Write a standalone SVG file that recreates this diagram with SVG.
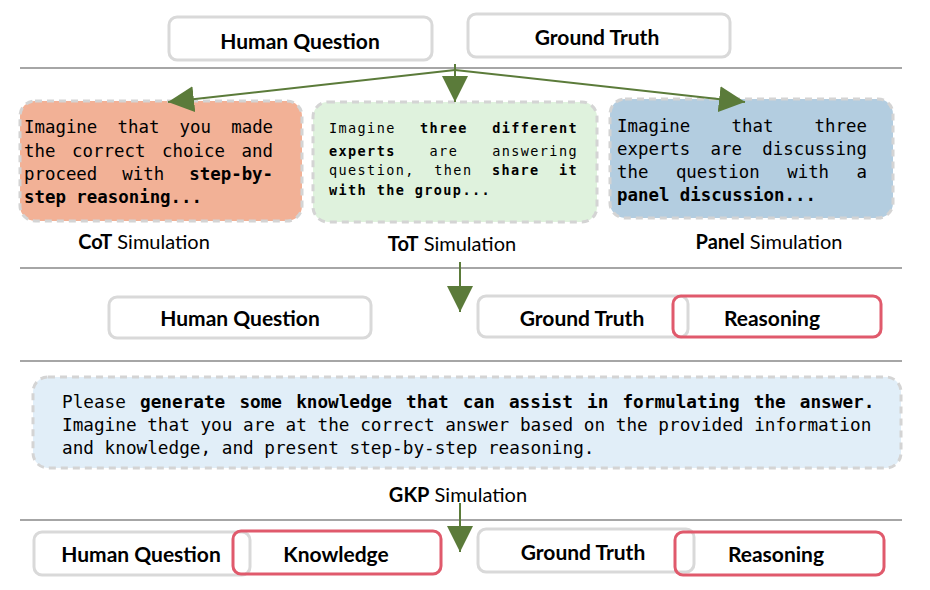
<svg xmlns="http://www.w3.org/2000/svg" width="930" height="590" viewBox="0 0 930 590">
<style>
.rule{stroke:#a6a6a6;stroke-width:2}
.box{fill:#fff;stroke:#d9d9d9;stroke-width:3}
.red{fill:none;stroke:#e05a6c;stroke-width:3}
.lbl{font-family:Lato,"Liberation Sans",sans-serif;font-weight:bold;font-size:21px;fill:#000;text-anchor:middle}
.cap{font-family:Lato,"Liberation Sans",sans-serif;font-size:20px;fill:#000;text-anchor:middle}
.cap tspan.b{font-weight:bold}
.prompt{stroke:#d4d4d4;stroke-width:3;stroke-dasharray:7 5}
.mono{font-family:"DejaVu Sans Mono","Liberation Mono",monospace;font-size:17.4px;fill:#000}
.gkp{font-family:"DejaVu Sans Mono","Liberation Mono",monospace;font-size:17.7px;fill:#000}
.small{font-family:"DejaVu Sans Mono","Liberation Mono",monospace;font-size:13.5px;letter-spacing:1.4px;fill:#000}
.b{font-weight:bold}
.conn{stroke:#5b7b3a;stroke-width:2;fill:none}
</style>
<defs>
<marker id="ah" markerUnits="userSpaceOnUse" markerWidth="28" markerHeight="26" refX="26" refY="13" orient="auto">
<path d="M0,0 L26,13 L0,26 Z" fill="#5b7b3a"/>
</marker>
</defs>

<g id="rules">
<line class="rule" x1="20" y1="68" x2="902" y2="68"/>
<line class="rule" x1="20" y1="268" x2="902" y2="268"/>
<line class="rule" x1="20" y1="361" x2="902" y2="361"/>
<line class="rule" x1="20" y1="520" x2="902" y2="520"/>
</g>

<g id="top-human-question">
<rect class="box" x="169" y="17" width="263" height="43" rx="8"/>
<text class="lbl" x="300" y="49">Human Question</text>
</g>
<g id="top-ground-truth">
<rect class="box" x="468" y="14" width="262" height="43" rx="8"/>
<text class="lbl" x="597" y="45">Ground Truth</text>
</g>

<g id="cot">
<rect class="prompt" x="20" y="101" width="282" height="120" rx="15" fill="#f2b196"/>
<text class="mono" y="133"><tspan x="24">Imagine</tspan><tspan x="117.5">that</tspan><tspan x="179.6">you</tspan><tspan x="231.2">made</tspan></text>
<text class="mono" y="157"><tspan x="24">the</tspan><tspan x="72.1">correct</tspan><tspan x="162.1">choice</tspan><tspan x="241.6">and</tspan></text>
<text class="mono" y="180"><tspan x="24">proceed</tspan><tspan x="122.3">with</tspan><tspan x="189.3" class="b">step-by-</tspan></text>
<text class="mono b" x="24" y="203">step reasoning...</text>
<text class="cap" x="144" y="249"><tspan class="b">CoT</tspan> Simulation</text>
</g>

<g id="tot">
<rect class="prompt" x="313" y="102" width="284" height="120" rx="15" fill="#dff2dd"/>
<text class="small" y="133"><tspan x="329">Imagine</tspan><tspan x="420.1" class="b">three</tspan><tspan x="492.2" class="b">different</tspan></text>
<text class="small" y="156"><tspan x="329" class="b">experts</tspan><tspan x="429.6">are</tspan><tspan x="492.2">answering</tspan></text>
<text class="small" y="175"><tspan x="329">question,</tspan><tspan x="434.3">then</tspan><tspan x="491.9" class="b">share</tspan><tspan x="559.1" class="b">it</tspan></text>
<text class="small b" x="329" y="195">with the group...</text>
<text class="cap" x="452" y="251"><tspan class="b">ToT</tspan> Simulation</text>
</g>

<g id="panel">
<rect class="prompt" x="610" y="99" width="283" height="119" rx="15" fill="#b3cde0"/>
<text class="mono" y="132"><tspan x="617">Imagine</tspan><tspan x="731.5">that</tspan><tspan x="814.6">three</tspan></text>
<text class="mono" y="155"><tspan x="617">experts</tspan><tspan x="710.6">are</tspan><tspan x="762.3">discussing</tspan></text>
<text class="mono" y="178"><tspan x="617">the</tspan><tspan x="675.9">question</tspan><tspan x="787.2">with</tspan><tspan x="856.6">a</tspan></text>
<text class="mono b" x="617" y="201">panel discussion...</text>
<text class="cap" x="769" y="249"><tspan class="b">Panel</tspan> Simulation</text>
</g>

<g id="mid-human-question">
<rect class="box" x="109" y="297" width="262" height="41" rx="8"/>
<text class="lbl" x="240" y="326">Human Question</text>
</g>
<g id="mid-ground-truth">
<rect class="box" x="478" y="296" width="210" height="41" rx="8"/>
<text class="lbl" x="582" y="326">Ground Truth</text>
</g>
<g id="mid-reasoning">
<rect class="red" x="673" y="296" width="208" height="41" rx="8"/>
<text class="lbl" x="772" y="326">Reasoning</text>
</g>

<g id="gkp">
<rect class="prompt" x="33" y="377" width="868" height="91" rx="15" fill="#e1eef8"/>
<text class="gkp" x="62" y="408" style="word-spacing:3.5px">Please <tspan class="b">generate some knowledge that can assist in formulating the answer.</tspan></text>
<text class="gkp" x="62" y="431">Imagine that you are at the correct answer based on the provided information</text>
<text class="gkp" x="62" y="454">and knowledge, and present step-by-step reasoning.</text>
<text class="cap" x="458" y="502"><tspan class="b">GKP</tspan> Simulation</text>
</g>

<g id="bot-human-question">
<rect class="box" x="34" y="532" width="216" height="43" rx="8"/>
<text class="lbl" x="141" y="562">Human Question</text>
</g>
<g id="bot-knowledge">
<rect class="red" x="233" y="531" width="208" height="43" rx="8"/>
<text class="lbl" x="336" y="562">Knowledge</text>
</g>
<g id="bot-ground-truth">
<rect class="box" x="478" y="529" width="216" height="43" rx="8"/>
<text class="lbl" x="583" y="560">Ground Truth</text>
</g>
<g id="bot-reasoning">
<rect class="red" x="675" y="532" width="209" height="43" rx="8"/>
<text class="lbl" x="776" y="562">Reasoning</text>
</g>

<g id="connectors">
<line class="conn" x1="455" y1="70" x2="168" y2="102" marker-end="url(#ah)"/>
<line class="conn" x1="455" y1="64" x2="455" y2="102" marker-end="url(#ah)"/>
<line class="conn" x1="455" y1="70" x2="745" y2="102" marker-end="url(#ah)"/>
<line class="conn" x1="460" y1="262" x2="460" y2="312" marker-end="url(#ah)"/>
<line class="conn" x1="460" y1="503" x2="460" y2="552" marker-end="url(#ah)"/>
</g>
</svg>
